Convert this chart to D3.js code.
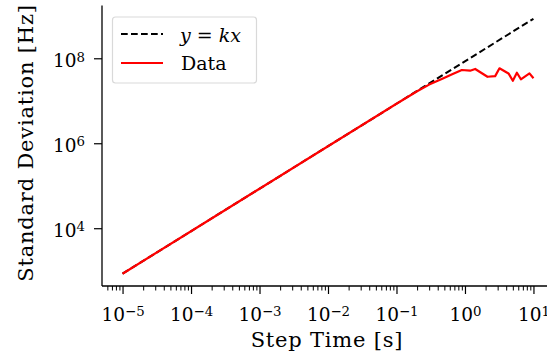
<!DOCTYPE html>
<html>
<head>
<meta charset="utf-8">
<script src="https://cdn.jsdelivr.net/npm/d3@7"></script>
<style>
  body { margin: 0; background: #fff; }
  svg text { font-family: "DejaVu Serif", "Liberation Serif", serif; fill: #000; }
</style>
</head>
<body>
<div id="chart"></div>
<script>
var stepTime = [1e-5, 1e-4, 1e-3, 1e-2, 0.1, 0.2, 0.3, 0.485, 0.65, 0.9, 1.19, 1.41, 2.13, 2.76, 3.19, 4.32, 5.0, 5.73, 6.55, 8.75, 10];
var stdDev = [850, 8500, 8.5e4, 8.5e5, 8.5e6, 1.67e7, 2.4e7, 3.38e7, 4.2e7, 5.3e7, 5.1e7, 5.6e7, 3.67e7, 3.8e7, 5.8e7, 4.4e7, 2.96e7, 4.57e7, 3.2e7, 4.4e7, 3.38e7];

// reference line y = kx
var k = 8.5e7;
var refX = [1e-5, 10];

var xTickExp = [-5, -4, -3, -2, -1, 0, 1];
var yTickExp = [4, 6, 8];

var legendLabels = ["y = kx", "Data"];

var width = 547, height = 363;

var svg = d3.select("#chart").append("svg")
    .attr("width", width)
    .attr("height", height);

var x = d3.scaleLog()
    .domain([Math.pow(10, -5.3), Math.pow(10, 1.3)])
    .range([102, 554]);

var y = d3.scaleLog()
    .domain([Math.pow(10, 2.64), Math.pow(10, 9.24)])
    .range([286, 5.6]);

// minor x ticks
var minor = [];
for (var e = -6; e <= 1; e++) {
    for (var m = 2; m <= 9; m++) {
        var v = m * Math.pow(10, e);
        if (v >= x.domain()[0] && v <= x.domain()[1]) minor.push(v);
    }
}

svg.append("g")
    .attr("transform", "translate(0,286)")
    .call(d3.axisBottom(x).tickValues(minor).tickSize(4.5).tickFormat(""))
    .call(function(g) { g.select(".domain").remove(); g.selectAll("line").attr("stroke-width", 1); });

function supLabel(sel, exps) {
    sel.selectAll(".tick text").each(function(d, i) {
        var t = d3.select(this).text("");
        t.append("tspan").text("10");
        t.append("tspan")
            .attr("dy", "-0.42em")
            .attr("font-size", "0.72em")
            .text(String(exps[i]).replace("-", "\u2212"));
    });
}

var xAxis = svg.append("g")
    .attr("transform", "translate(0,286)")
    .call(d3.axisBottom(x)
        .tickValues(xTickExp.map(function(d) { return Math.pow(10, d); }))
        .tickSize(8).tickPadding(14))
    .call(function(g) { supLabel(g, xTickExp); });

var yAxis = svg.append("g")
    .attr("transform", "translate(102,0)")
    .call(d3.axisLeft(y)
        .tickValues(yTickExp.map(function(d) { return Math.pow(10, d); }))
        .tickSize(8).tickPadding(9))
    .call(function(g) { supLabel(g, yTickExp); });
yAxis.selectAll(".tick text").attr("dy", "0.45em");

[xAxis, yAxis].forEach(function(g) {
    g.selectAll("text").attr("font-size", 18.5).attr("font-family", null);
    g.selectAll("line").attr("stroke-width", 1.2);
    g.select(".domain").attr("stroke-width", 1.3);
});
xAxis.select(".domain").attr("d", "M102,0H554");
yAxis.select(".domain").attr("d", "M0,5.6V286");

// lines
var line = d3.line()
    .x(function(d) { return x(d[0]); })
    .y(function(d) { return y(d[1]); });

svg.append("path")
    .datum(refX.map(function(d) { return [d, k * d]; }))
    .attr("d", line)
    .attr("fill", "none")
    .attr("stroke", "#000")
    .attr("stroke-width", 2)
    .attr("stroke-dasharray", "6.7,3.3");

svg.append("path")
    .datum(stepTime.map(function(d, i) { return [d, stdDev[i]]; }))
    .attr("d", line)
    .attr("fill", "none")
    .attr("stroke", "red")
    .attr("stroke-width", 2.2)
    .attr("stroke-linejoin", "round");

// axis labels
svg.append("text")
    .attr("x", 327)
    .attr("y", 347)
    .attr("text-anchor", "middle")
    .attr("font-size", 21)
    .attr("letter-spacing", 0.8)
    .text("Step Time [s]");

svg.append("text")
    .attr("transform", "translate(33,143) rotate(-90)")
    .attr("text-anchor", "middle")
    .attr("font-size", 21)
    .attr("letter-spacing", 0.8)
    .text("Standard Deviation [Hz]");

// legend
var legend = svg.append("g");
legend.append("rect")
    .attr("x", 112.5).attr("y", 17)
    .attr("width", 144).attr("height", 66)
    .attr("rx", 3)
    .attr("fill", "#fff").attr("fill-opacity", 0.8)
    .attr("stroke", "#d9d9d9").attr("stroke-width", 1.2);

legend.append("line")
    .attr("x1", 121).attr("x2", 163).attr("y1", 34).attr("y2", 34)
    .attr("stroke", "#000").attr("stroke-width", 2).attr("stroke-dasharray", "6.7,3.3");
legend.append("line")
    .attr("x1", 121).attr("x2", 163).attr("y1", 63).attr("y2", 63)
    .attr("stroke", "red").attr("stroke-width", 2.2);

legend.append("text")
    .attr("x", 180).attr("y", 41.5)
    .attr("font-size", 19)
    .attr("font-style", "italic")
    .text(legendLabels[0]);
legend.append("text")
    .attr("x", 181).attr("y", 70)
    .attr("font-size", 19)
    .text(legendLabels[1]);
</script>
</body>
</html>
